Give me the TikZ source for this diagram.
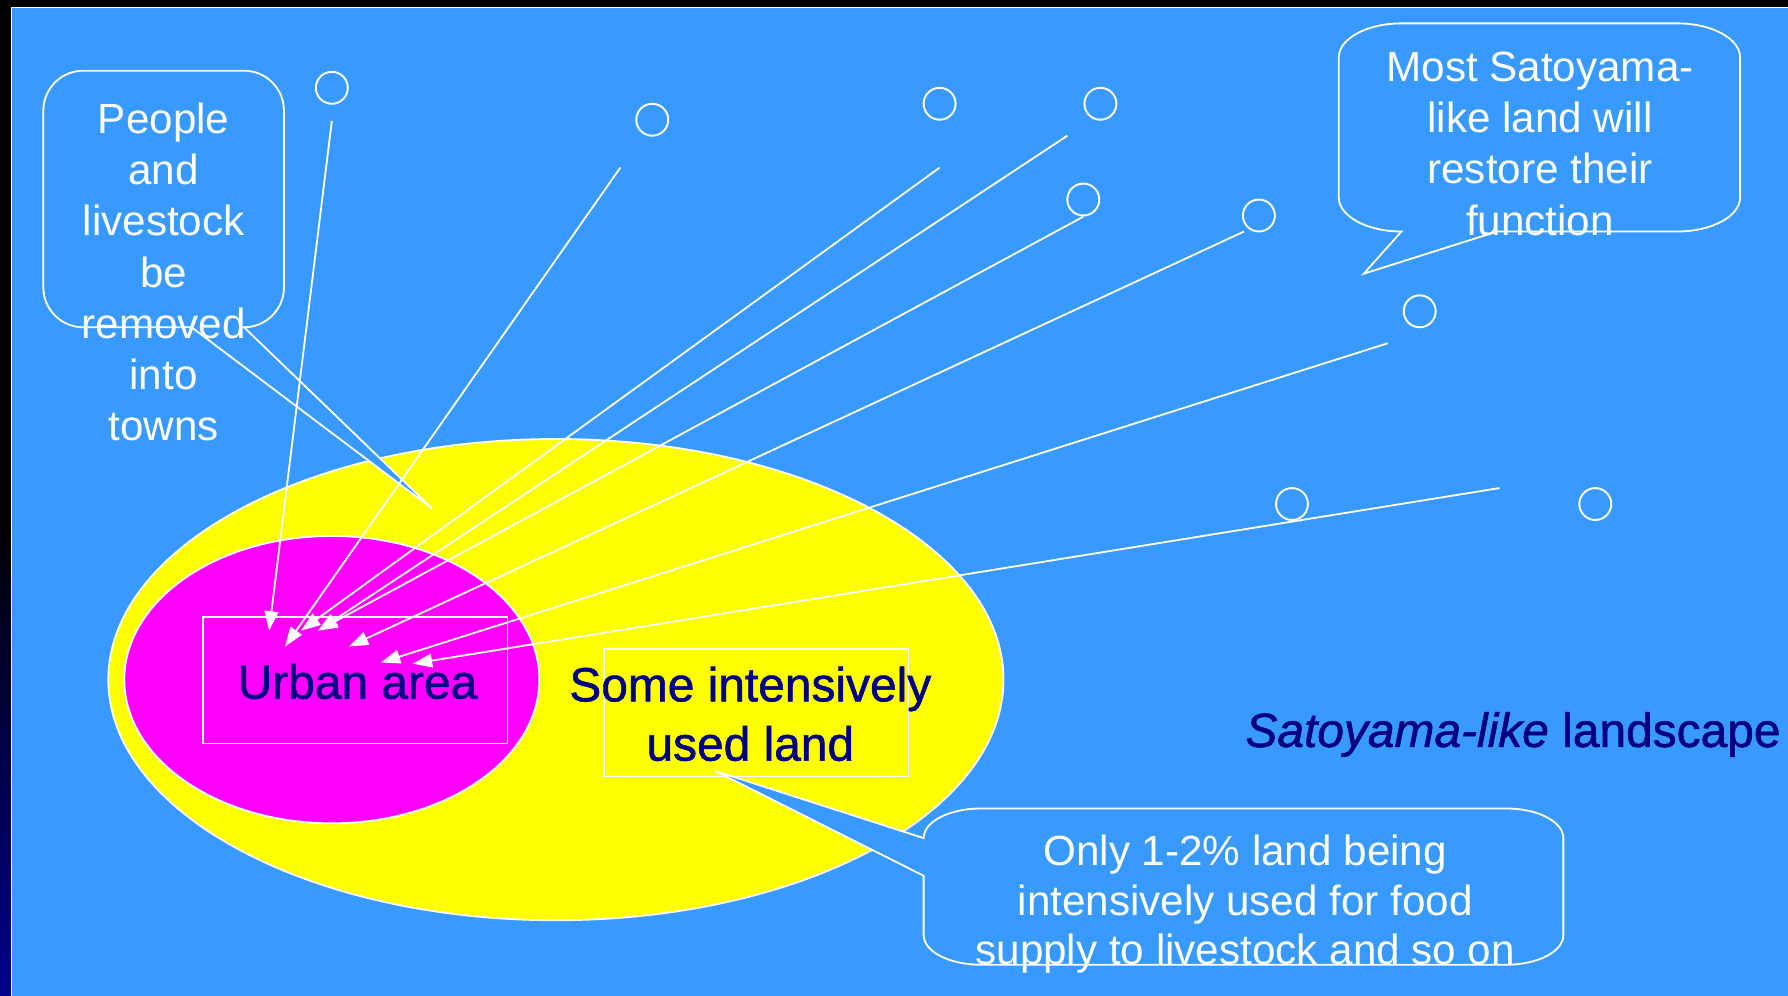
\documentclass[tikz,border=0pt]{standalone}
\usepackage{fontspec}
\setmainfont{Liberation Sans}
\newfontfamily\navyfont[FakeBold=1.2]{Liberation Sans}
\usetikzlibrary{arrows.meta}
\definecolor{bg}{RGB}{56,153,255}
\definecolor{ylw}{RGB}{255,255,0}
\definecolor{mag}{RGB}{255,0,255}
\definecolor{navytxt}{RGB}{0,0,128}
\definecolor{stripnavy}{RGB}{0,0,140}
\begin{document}
\begin{tikzpicture}[x=1pt,y=1pt,
  outline/.style={draw=white, line width=1.6pt},
  bubble/.style={draw=white, line width=1.6pt, fill=bg, line join=miter},
  circ/.style={circle, draw=white, line width=1.7pt, minimum size=28pt, inner sep=0pt},
  conn/.style={draw=white, line width=1.6pt, -{Triangle[length=17pt,width=12pt]}},
  whitetxt/.style={text=white, font=\fontsize{37}{45}\selectfont, align=center, inner sep=0pt},
  navytext/.style={text=navytxt, font=\navyfont\fontsize{42}{52}\selectfont, align=center, inner sep=0pt},
  framebox/.style={draw=white, line width=1.3pt, inner sep=0pt}
]
\useasboundingbox (0,0) rectangle (1568,-873);
% background
\fill[black] (0,0) rectangle (1568,-873);
\shade[top color=black, bottom color=stripnavy] (0,-450) rectangle (10,-873);
\fill[bg] (10,-7) rectangle (1568,-873);
\draw[white, line width=1.3pt] (1568,-6.5) -- (10,-6.5) -- (10,-873);
% regions
\draw[outline, fill=ylw] (487.5,-596) ellipse [x radius=392.5, y radius=211];
\draw[outline, fill=mag] (291,-596) ellipse [x radius=182, y radius=126];
\node[framebox, minimum width=267pt, minimum height=111pt] (urban) at (311.5,-596.5) {};
\node[navytext, anchor=base] (urbantxt) at (313.5,-612.6) {Urban area};
\node[framebox, minimum width=267pt, minimum height=112pt] (landbox) at (663,-625) {};
\node[navytext] (landtxt) at (658,-626) {Some intensively\\used land};
\node[navytext, anchor=base west] (landscape) at (1092,-655) {\textit{Satoyama-like} landscape};
% callouts
\draw[bubble] (73,-62) -- (214,-62) arc[start angle=90,end angle=0,radius=35]
  -- (249,-252) arc[start angle=0,end angle=-90,radius=35]
  -- (379,-446) -- (168,-287) -- (73,-287) arc[start angle=270,end angle=180,radius=35]
  -- (38,-97) arc[start angle=180,end angle=90,radius=35] -- cycle;
\draw[bubble] (1229,-20.5) -- (1471,-20.5) arc[start angle=90,end angle=0,x radius=55,y radius=30]
  -- (1526,-173) arc[start angle=0,end angle=-90,x radius=55,y radius=30]
  -- (1313,-203) -- (1196,-240) -- (1229,-203) arc[start angle=270,end angle=180,x radius=55,y radius=30]
  -- (1174,-50.5) arc[start angle=180,end angle=90,x radius=55,y radius=30] -- cycle;
\draw[bubble] (860,-709) -- (1321,-709) arc[start angle=90,end angle=0,x radius=50,y radius=26]
  -- (1371,-820) arc[start angle=0,end angle=-90,x radius=50,y radius=26]
  -- (860,-846) arc[start angle=270,end angle=180,x radius=50,y radius=26]
  -- (810,-768) -- (627,-676) -- (810,-735) arc[start angle=180,end angle=90,x radius=50,y radius=26] -- cycle;
\node[whitetxt] (peopletxt) at (143.5,-238.5) {People\\and\\livestock\\be\\removed\\into\\towns};
\node[whitetxt] (mosttxt) at (1350.5,-126) {Most Satoyama-\\like land will\\restore their\\function};
\node[whitetxt, font=\fontsize{37}{43.5}\selectfont] (onlytxt) at (1092,-793) {Only 1-2\% land being\\intensively used for food\\supply to livestock and so on};
% circles
\node[circ] (c1) at (291,-77) {};
\node[circ] (c2) at (572,-105) {};
\node[circ] (c3) at (824,-91) {};
\node[circ] (c4) at (965,-91) {};
\node[circ] (c5) at (950,-175) {};
\node[circ] (c6) at (1104,-189) {};
\node[circ] (c7) at (1245,-273) {};
\node[circ] (c8) at (1133,-442) {};
\node[circ] (c9) at (1399,-442) {};
% connector ends
\coordinate (s1) at (291,-106);
\coordinate (s2) at (544,-147);
\coordinate (s3) at (824,-147);
\coordinate (s4) at (936,-119);
\coordinate (s5) at (950,-190);
\coordinate (s6) at (1091,-203);
\coordinate (s7) at (1217,-301);
\coordinate (s8) at (1315,-428);
\coordinate (t1) at (236,-553);
\coordinate (t2) at (250,-567);
\coordinate (t3) at (264,-553);
\coordinate (t4) at (279,-553);
\coordinate (t5) at (306,-567);
\coordinate (t6) at (334,-581);
\coordinate (t7) at (362,-582);
\draw[conn] (s1) -- (t1);
\draw[conn] (s2) -- (t2);
\draw[conn] (s3) -- (t3);
\draw[conn] (s4) -- (t4);
\draw[conn] (s5) -- (t4);
\draw[conn] (s6) -- (t5);
\draw[conn] (s7) -- (t6);
\draw[conn] (s8) -- (t7);
\end{tikzpicture}
\end{document}
